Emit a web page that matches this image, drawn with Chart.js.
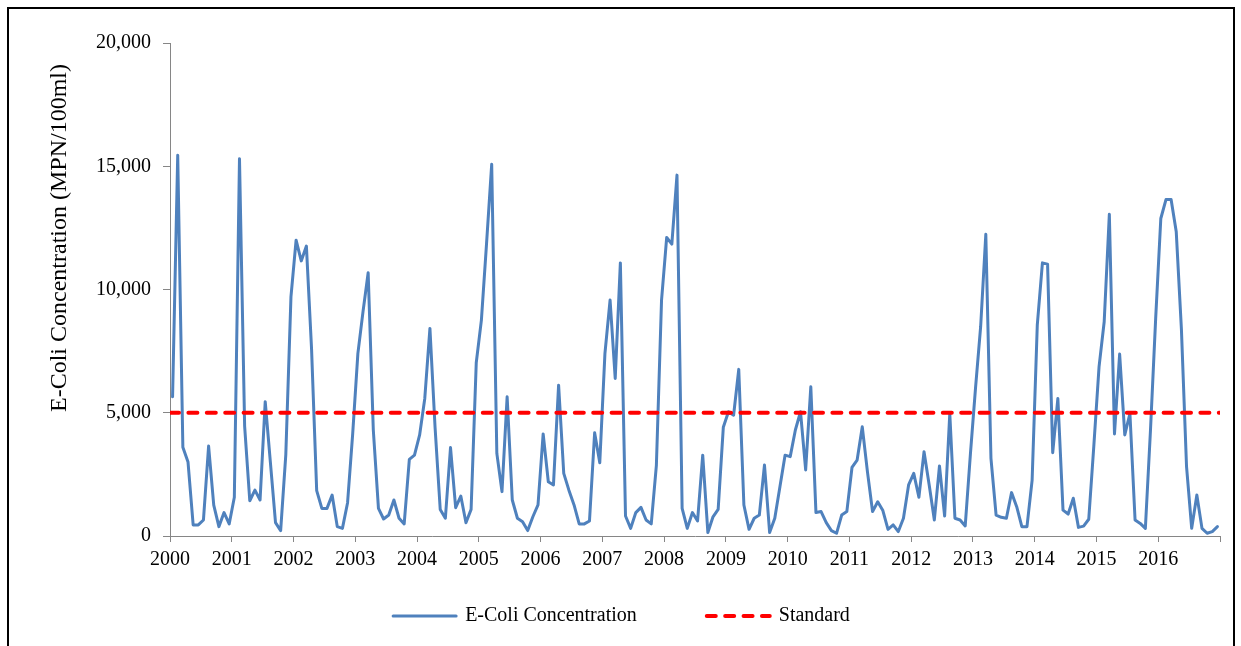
<!DOCTYPE html>
<html>
<head>
<meta charset="utf-8">
<script src="https://cdn.jsdelivr.net/npm/chart.js@4.4.1/dist/chart.umd.min.js"></script>
<style>
  html, body { margin: 0; padding: 0; background: #fff; }
  #wrap { position: relative; width: 1241px; height: 646px; overflow: hidden; }
  #frame { position: absolute; left: 7px; top: 7px; width: 1228px; height: 700px;
           border: 2px solid #000; box-sizing: border-box; }
  canvas { position: absolute; left: 0; top: 0; }
</style>
</head>
<body>
<div id="wrap">
  <div id="frame"></div>
  <canvas id="chart" width="1241" height="646"></canvas>
</div>
<script>
// Monthly E-Coli concentration (MPN/100ml), January to December of each year
const firstYear = 2000;
const y2000 = [5650, 15450, 3600, 3000, 450, 450, 650, 3650, 1250, 380, 950, 490];
const y2001 = [1570, 15300, 4460, 1430, 1860, 1460, 5450, 3000, 540, 220, 3300, 9700];
const y2002 = [12000, 11160, 11760, 7600, 1840, 1120, 1120, 1660, 380, 310, 1350, 4160];
const y2003 = [7400, 9100, 10680, 4300, 1120, 690, 850, 1460, 720, 490, 3110, 3280];
const y2004 = [4100, 5580, 8420, 4400, 1080, 720, 3590, 1150, 1620, 540, 1080, 7030];
const y2005 = [8760, 11860, 15080, 3350, 1800, 5650, 1460, 720, 580, 220, 780, 1260];
const y2006 = [4140, 2200, 2070, 6120, 2540, 1860, 1260, 490, 490, 610, 4190, 2970];
const y2007 = [7400, 9570, 6390, 11080, 810, 310, 950, 1160, 650, 490, 2880, 9570];
const y2008 = [12110, 11840, 14640, 1120, 310, 950, 610, 3280, 140, 780, 1080, 4410];
const y2009 = [5040, 4900, 6760, 1260, 270, 720, 850, 2880, 140, 720, 2000, 3280];
const y2010 = [3220, 4300, 5040, 2680, 6050, 950, 990, 540, 220, 110, 850, 990];
const y2011 = [2780, 3080, 4430, 2610, 990, 1390, 1030, 270, 450, 180, 720, 2070];
const y2012 = [2540, 1570, 3420, 2070, 650, 2840, 810, 4970, 720, 650, 410, 3300];
const y2013 = [6000, 8500, 12240, 3150, 850, 760, 720, 1760, 1190, 380, 380, 2270];
const y2014 = [8550, 11080, 11030, 3380, 5580, 1050, 890, 1530, 350, 400, 680, 3700];
const y2015 = [6860, 8690, 13050, 4140, 7380, 4100, 4970, 650, 510, 310, 4320, 8820];
const y2016 = [12880, 13650, 13650, 12340, 8400, 2810, 310, 1660, 310, 110, 180, 380];

const yearSeries = [y2000, y2001, y2002, y2003, y2004, y2005, y2006, y2007, y2008,
                    y2009, y2010, y2011, y2012, y2013, y2014, y2015, y2016];
const standardLevel = 5000;
const yTicks = [0, 5000, 10000, 15000, 20000];

const seriesName = 'E-Coli Concentration';
const standardName = 'Standard';
const yTitle = 'E-Coli Concentration (MPN/100ml)';

// Each month sits in the middle of its own slot; year ticks fall on slot boundaries
const monthly = yearSeries.flat();
const monthCount = monthly.length;
const ecoliPoints = monthly.map((v, i) => ({ x: i + 0.5, y: v }));
const standardPoints = [{ x: 0, y: standardLevel }, { x: monthCount, y: standardLevel }];

const serif = '"Liberation Serif", "Times New Roman", serif';
const axisGrey = '#868686';

// Rotated axis title and the legend row under the plot
const captionPlugin = {
  id: 'captions',
  afterDraw(chart) {
    const ctx = chart.ctx;
    ctx.save();
    ctx.fillStyle = '#000';
    ctx.font = '24px ' + serif;
    ctx.textAlign = 'center';
    ctx.textBaseline = 'middle';
    ctx.translate(60, 238);
    ctx.rotate(-Math.PI / 2);
    ctx.fillText(yTitle, 0, 0);
    ctx.restore();

    ctx.save();
    ctx.font = '20px ' + serif;
    ctx.textBaseline = 'middle';
    ctx.textAlign = 'left';
    const sample = 67, gapText = 7, gapItem = 68, ly = 616;
    const items = chart.data.datasets.map(ds => ({
      ds, w: sample + gapText + ctx.measureText(ds.label).width
    }));
    const total = items.reduce((s, it) => s + it.w, 0) + gapItem * (items.length - 1);
    let x = chart.width / 2 - total / 2;
    items.forEach(it => {
      ctx.beginPath();
      ctx.strokeStyle = it.ds.borderColor;
      ctx.lineWidth = it.ds.borderWidth;
      ctx.lineCap = 'round';
      ctx.setLineDash(it.ds.borderDash || []);
      ctx.moveTo(x + 2, ly);
      ctx.lineTo(x + sample - 2, ly);
      ctx.stroke();
      ctx.setLineDash([]);
      ctx.fillStyle = '#000';
      ctx.fillText(it.ds.label, x + sample + gapText, ly);
      x += it.w + gapItem;
    });
    ctx.restore();
  }
};

new Chart(document.getElementById('chart'), {
  type: 'line',
  data: {
    datasets: [
      {
        label: seriesName,
        data: ecoliPoints,
        borderColor: '#4F81BD',
        borderWidth: 3,
        pointRadius: 0,
        tension: 0,
        borderJoinStyle: 'round',
        borderCapStyle: 'round',
        order: 1
      },
      {
        label: standardName,
        data: standardPoints,
        borderColor: '#FF0000',
        borderWidth: 4,
        borderDash: [9, 9.4],
        borderCapStyle: 'round',
        pointRadius: 0,
        order: 0
      }
    ]
  },
  options: {
    responsive: false,
    animation: false,
    devicePixelRatio: 1,
    layout: { padding: { left: 0, top: 43, right: 21, bottom: 0 } },
    plugins: { legend: { display: false }, tooltip: { enabled: false } },
    scales: {
      x: {
        type: 'linear',
        min: 0,
        max: monthCount,
        afterFit: s => { s.height = 110; },
        afterBuildTicks: s => { s.ticks = Array.from({ length: monthCount / 12 + 1 }, (_, k) => ({ value: k * 12 })); },
        border: { color: axisGrey, width: 1 },
        grid: { drawOnChartArea: false, color: axisGrey, tickLength: 6 },
        ticks: {
          autoSkip: false,
          maxRotation: 0,
          padding: 6,
          color: '#000',
          font: { family: serif, size: 20 },
          callback: v => (v < monthCount ? String(firstYear + v / 12) : '')
        }
      },
      y: {
        min: 0,
        max: 20000,
        afterFit: s => { s.width = 170; },
        afterBuildTicks: s => { s.ticks = yTicks.map(v => ({ value: v })); },
        border: { color: axisGrey, width: 1 },
        grid: { drawOnChartArea: false, color: axisGrey, tickLength: 7 },
        ticks: {
          padding: 12,
          color: '#000',
          font: { family: serif, size: 20 },
          callback: v => v.toLocaleString('en-US')
        }
      }
    }
  },
  plugins: [captionPlugin]
});
</script>
</body>
</html>
